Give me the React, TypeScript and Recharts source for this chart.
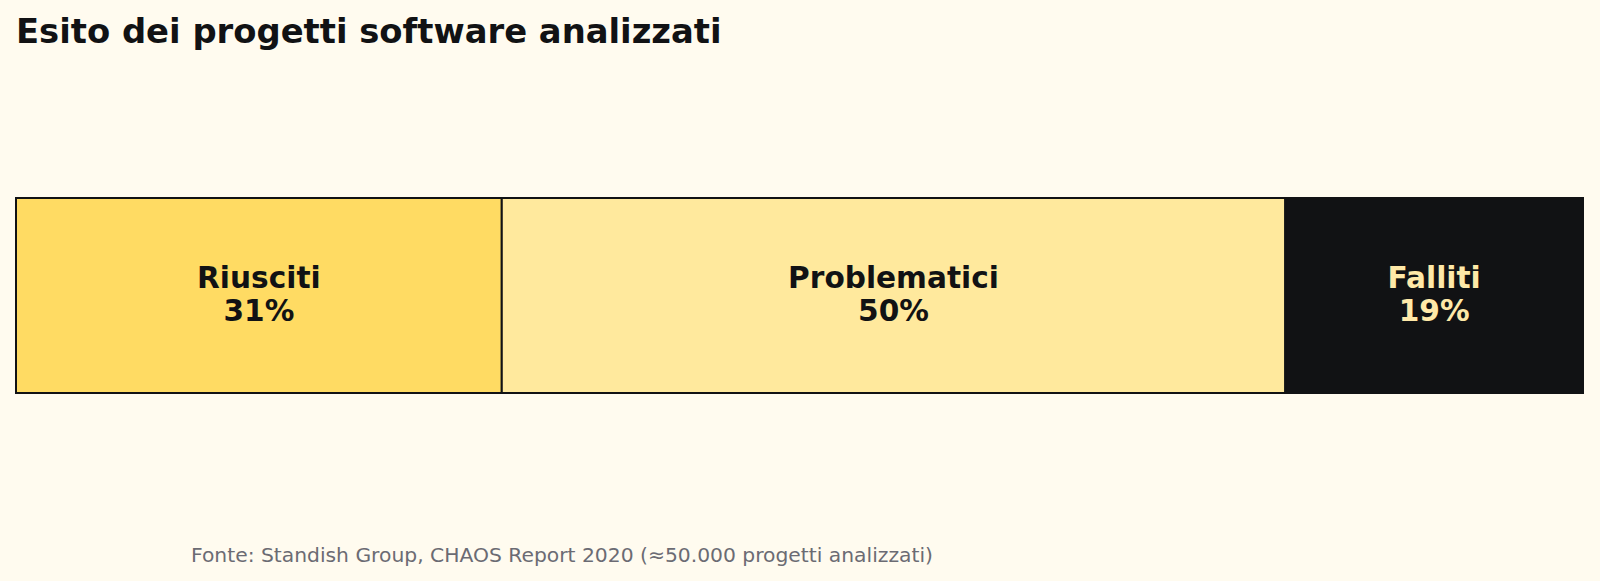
import React from 'react';
import { BarChart, Bar, XAxis, YAxis, LabelList } from 'recharts';

const categories = ['Riusciti', 'Problematici', 'Falliti'];
const values = [31, 50, 19];
const fills = ['#FFDB63', '#FFE99D', '#111214'];
const textColors = ['#111214', '#111214', '#FFE9A8'];

const W = 1600;
const H = 581;
const FONT = '"DejaVu Sans", Verdana, sans-serif';

const row: Record<string, number | string> = { name: 'esito' };
categories.forEach((c, i) => {
  row[c] = values[i];
});
const data = [row];

function makeLabel(name: string, color: string) {
  return (props: any) => {
    const { x, y, width, height, value } = props;
    const cx = Number(x) + Number(width) / 2;
    const cy = Number(y) + Number(height) / 2;
    return (
      <text
        x={cx}
        y={cy}
        textAnchor="middle"
        fill={color}
        fontFamily={FONT}
        fontWeight="bold"
        fontSize={29.6}
      >
        <tspan x={cx} y={cy - 17.5} dominantBaseline="central">{name}</tspan>
        <tspan x={cx} y={cy + 15} dominantBaseline="central">{`${value}%`}</tspan>
      </text>
    );
  };
}

export default function App() {
  return (
    <div style={{ position: 'relative', width: W, height: H, background: '#FFFBEF', overflow: 'hidden' }}>
      <style>{'body{margin:0;}'}</style>
      <div
        style={{
          position: 'absolute',
          left: 16,
          top: 12,
          fontFamily: FONT,
          fontWeight: 'bold',
          fontSize: 33.8,
          color: '#111214',
          whiteSpace: 'nowrap',
        }}
      >
        Esito dei progetti software analizzati
      </div>
      <BarChart
        width={W}
        height={H}
        data={data}
        layout="vertical"
        margin={{ top: 198, right: 17, bottom: 188, left: 16 }}
        barCategoryGap={0}
      >
        <XAxis type="number" domain={[0, 100]} hide />
        <YAxis type="category" dataKey="name" hide />
        {categories.map((c, i) => (
          <Bar
            key={c}
            dataKey={c}
            stackId="a"
            fill={fills[i]}
            stroke="#111214"
            strokeWidth={2}
            isAnimationActive={false}
          >
            <LabelList dataKey={c} content={makeLabel(c, textColors[i])} />
          </Bar>
        ))}
      </BarChart>
      <div
        style={{
          position: 'absolute',
          left: 191,
          top: 543,
          fontFamily: FONT,
          fontSize: 20.3,
          color: '#6B6B73',
          whiteSpace: 'nowrap',
        }}
      >
        Fonte: Standish Group, CHAOS Report 2020 (≈50.000 progetti analizzati)
      </div>
    </div>
  );
}
